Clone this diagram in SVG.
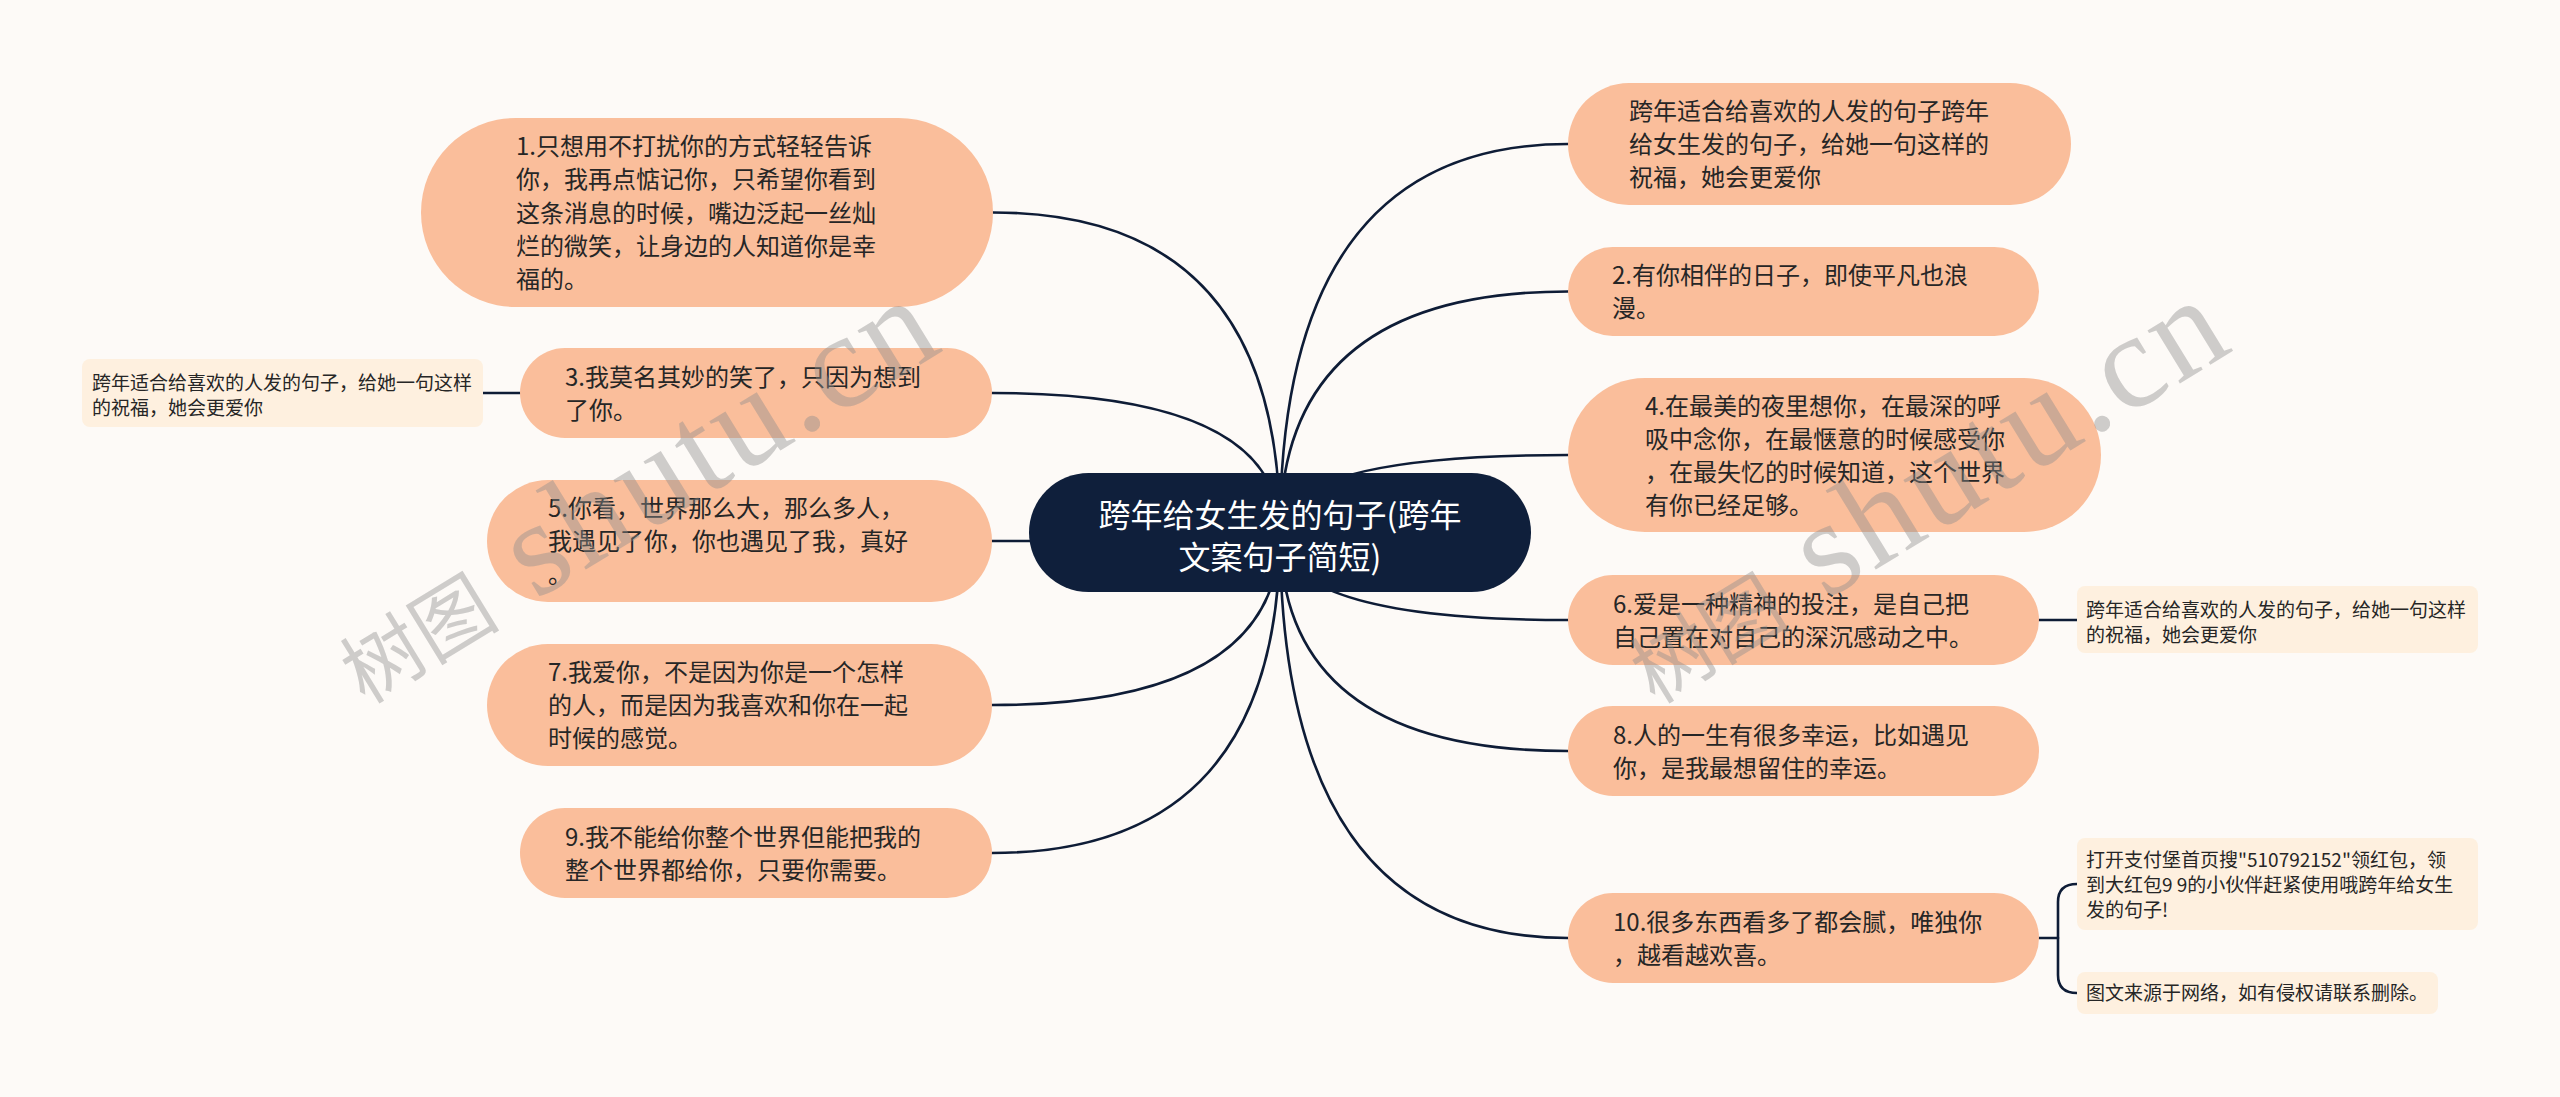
<svg xmlns="http://www.w3.org/2000/svg" width="2560" height="1097" viewBox="0 0 2560 1097">
<defs>
<style>
.bg{fill:#FDFAF7}
.node rect{fill:#FABE9B}
.node text{font-family:"Noto Sans CJK SC","Noto Sans",sans-serif;font-size:24px;fill:#262626}
.sub rect{fill:#FEF0DF}
.sub text{font-family:"Noto Sans CJK SC","Noto Sans",sans-serif;font-size:19px;fill:#262626}
.root rect{fill:#0F1F3B}
.root text{font-family:"Noto Sans CJK SC","Noto Sans",sans-serif;font-size:32px;fill:#FFFFFF;text-anchor:middle}
.links path{fill:none;stroke:#0E1C36;stroke-width:2.6;stroke-linecap:round}
.wm{fill:#8c8c8c;fill-opacity:0.42}
</style>
</defs>
<rect class="bg" x="0" y="0" width="2560" height="1097"/>

<g id="connectors" class="links">
<path d="M1280,532 Q1280,212.5 993,212.5"/>
<path d="M1280,532 Q1280,393 992,393"/>
<path d="M1280,532 Q1280,541 992,541"/>
<path d="M1280,532 Q1280,705 992,705"/>
<path d="M1280,532 Q1280,853 992,853"/>
<path d="M1280,532 Q1280,144 1568,144"/>
<path d="M1280,532 Q1280,291.5 1568,291.5"/>
<path d="M1280,532 Q1280,455 1568,455"/>
<path d="M1280,532 Q1280,620 1568,620"/>
<path d="M1280,532 Q1280,751 1568,751"/>
<path d="M1280,532 Q1280,938 1568,938"/>
<path d="M520,393 H483"/>
<path d="M2039,620 H2077"/>
<path d="M2039,938 H2058"/>
<path d="M2077,884 Q2058,884 2058,902 V975 Q2058,993 2077,993"/>
</g>

<g id="root" class="root">
<rect x="1029" y="473" width="502" height="119" rx="59.5"/>
<text x="1280" y="526.5">跨年给女生发的句子(跨年</text>
<text x="1280" y="568.5">文案句子简短)</text>
</g>

<g id="n1" class="node">
<rect x="421" y="118" width="572" height="189" rx="94.5"/>
<text x="516" y="155">1.只想用不打扰你的方式轻轻告诉</text>
<text x="516" y="188">你，我再点惦记你，只希望你看到</text>
<text x="516" y="221.5">这条消息的时候，嘴边泛起一丝灿</text>
<text x="516" y="255">烂的微笑，让身边的人知道你是幸</text>
<text x="516" y="288">福的。</text>
</g>

<g id="n3" class="node">
<rect x="520" y="348" width="472" height="90" rx="45"/>
<text x="565" y="385.5">3.我莫名其妙的笑了，只因为想到</text>
<text x="565" y="418.5">了你。</text>
</g>

<g id="n5" class="node">
<rect x="487" y="480" width="505" height="122" rx="61"/>
<text x="548" y="517">5.你看，世界那么大，那么多人，</text>
<text x="548" y="550">我遇见了你，你也遇见了我，真好</text>
<text x="548" y="583">。</text>
</g>

<g id="n7" class="node">
<rect x="487" y="644" width="505" height="122" rx="61"/>
<text x="548" y="681">7.我爱你，不是因为你是一个怎样</text>
<text x="548" y="714">的人，而是因为我喜欢和你在一起</text>
<text x="548" y="747">时候的感觉。</text>
</g>

<g id="n9" class="node">
<rect x="520" y="808" width="472" height="90" rx="45"/>
<text x="565" y="845.5">9.我不能给你整个世界但能把我的</text>
<text x="565" y="878.5">整个世界都给你，只要你需要。</text>
</g>

<g id="r0" class="node">
<rect x="1568" y="83" width="503" height="122" rx="61"/>
<text x="1629" y="120">跨年适合给喜欢的人发的句子跨年</text>
<text x="1629" y="153">给女生发的句子，给她一句这样的</text>
<text x="1629" y="186">祝福，她会更爱你</text>
</g>

<g id="r2" class="node">
<rect x="1568" y="247" width="471" height="89" rx="44.5"/>
<text x="1612" y="284">2.有你相伴的日子，即使平凡也浪</text>
<text x="1612" y="317">漫。</text>
</g>

<g id="r4" class="node">
<rect x="1568" y="378" width="533" height="154" rx="77"/>
<text x="1645" y="414.5">4.在最美的夜里想你，在最深的呼</text>
<text x="1645" y="447.5">吸中念你，在最惬意的时候感受你</text>
<text x="1645" y="480.5">，在最失忆的时候知道，这个世界</text>
<text x="1645" y="513.5">有你已经足够。</text>
</g>

<g id="r6" class="node">
<rect x="1568" y="575" width="471" height="90" rx="45"/>
<text x="1613" y="612.5">6.爱是一种精神的投注，是自己把</text>
<text x="1613" y="645.5">自己置在对自己的深沉感动之中。</text>
</g>

<g id="r8" class="node">
<rect x="1568" y="706" width="471" height="90" rx="45"/>
<text x="1613" y="743.5">8.人的一生有很多幸运，比如遇见</text>
<text x="1613" y="776.5">你，是我最想留住的幸运。</text>
</g>

<g id="r10" class="node">
<rect x="1568" y="893" width="471" height="90" rx="45"/>
<text x="1613" y="930.5">10.很多东西看多了都会腻，唯独你</text>
<text x="1613" y="963.5">，越看越欢喜。</text>
</g>

<g id="s3" class="sub">
<rect x="82" y="359" width="401" height="68" rx="8"/>
<text x="92" y="390">跨年适合给喜欢的人发的句子，给她一句这样</text>
<text x="92" y="415">的祝福，她会更爱你</text>
</g>

<g id="s6" class="sub">
<rect x="2077" y="586" width="401" height="67" rx="8"/>
<text x="2086" y="617">跨年适合给喜欢的人发的句子，给她一句这样</text>
<text x="2086" y="642">的祝福，她会更爱你</text>
</g>

<g id="s10a" class="sub">
<rect x="2077" y="838" width="401" height="92" rx="8"/>
<text x="2086" y="867">打开支付堡首页搜"510792152"领红包，领</text>
<text x="2086" y="892">到大红包9 9的小伙伴赶紧使用哦跨年给女生</text>
<text x="2086" y="917">发的句子!</text>
</g>

<g id="s10b" class="sub">
<rect x="2077" y="972" width="361" height="42" rx="8"/>
<text x="2086" y="1000">图文来源于网络，如有侵权请联系删除。</text>
</g>

<g id="watermark" class="wm">
<g transform="translate(365,705) rotate(-31.5)">
<text x="0" y="0" font-family="Noto Sans CJK SC, sans-serif" font-size="80">树图</text>
<text x="200" y="0" font-family="Liberation Serif, serif" font-size="135" textLength="480" lengthAdjust="spacing">shutu.cn</text>
</g>
<g transform="translate(1655,705) rotate(-31.5)">
<text x="0" y="0" font-family="Noto Sans CJK SC, sans-serif" font-size="80">树图</text>
<text x="200" y="0" font-family="Liberation Serif, serif" font-size="135" textLength="480" lengthAdjust="spacing">shutu.cn</text>
</g>
</g>
</svg>
